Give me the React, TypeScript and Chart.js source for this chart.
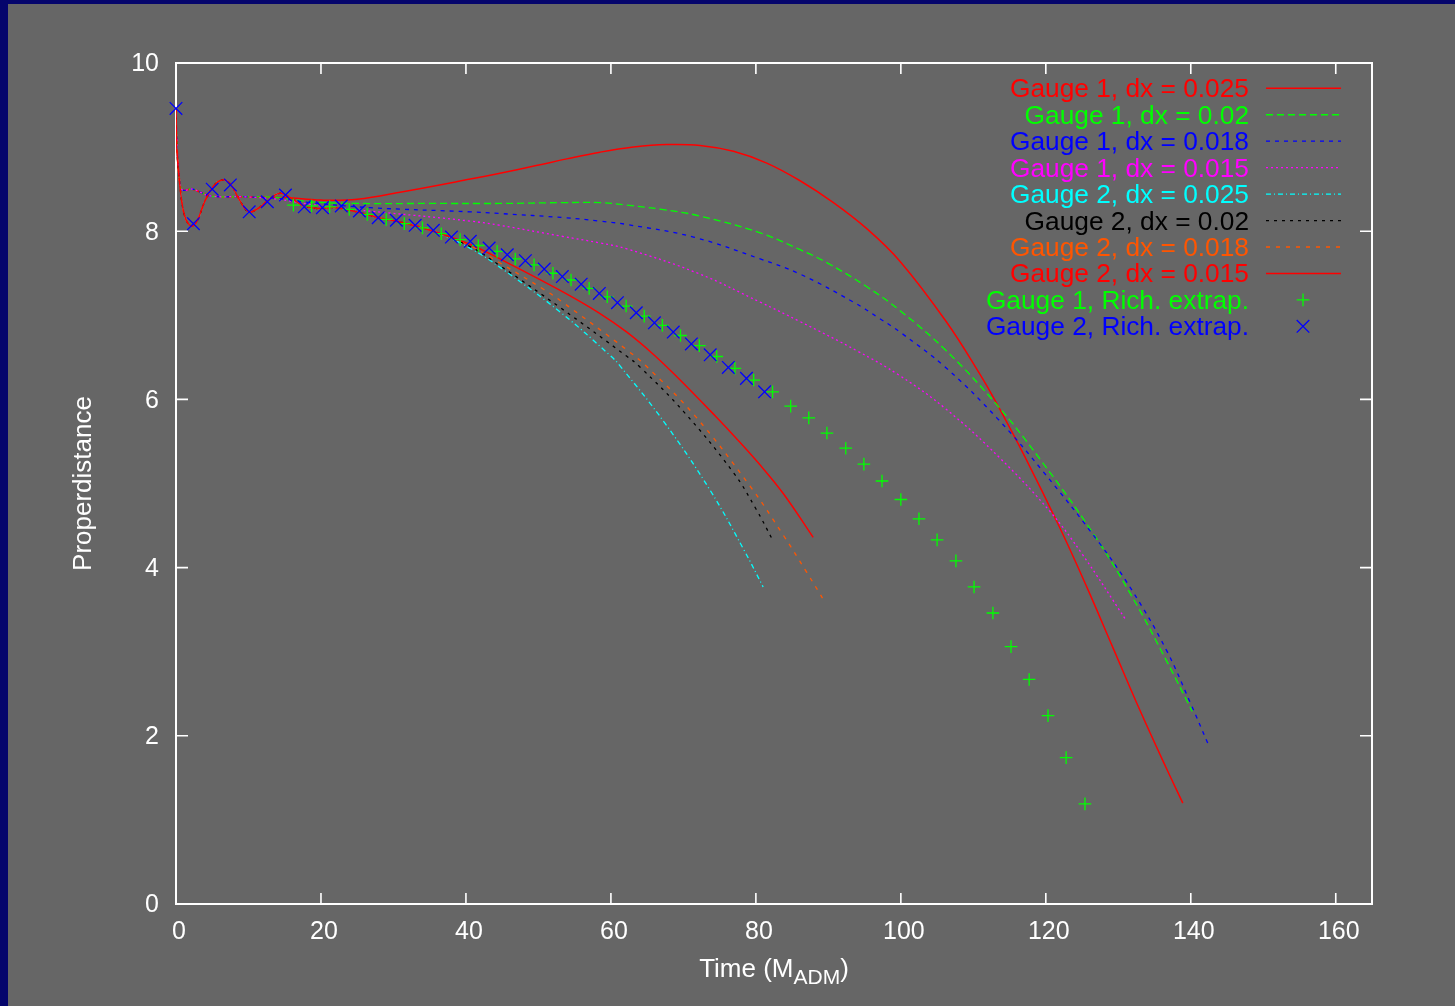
import React, { useEffect, useRef } from "react";
import { Chart, registerables } from "chart.js";

Chart.register(...registerables);

const W = 1447;
const H = 1002;
const FONT = '"Liberation Sans", Arial, sans-serif';

const xTicks = [0, 20, 40, 60, 80, 100, 120, 140, 160];
const yTicks = [0, 2, 4, 6, 8, 10];

// Gauge 1: common early part
const g1EarlyT = [0, 0.15, 0.5, 0.9, 2.3, 4.7, 9.3];
const g1EarlyY = [9.45, 9.0, 8.6, 8.49, 8.5, 8.42, 8.41];

const g1dx025T = [15, 20, 25, 31.3, 40.6, 44.7, 49.7, 53.9, 58.5, 63.1, 67.7, 72.3, 76.9, 81.5, 86.1, 90.7, 95.3, 99.9, 106.3, 110.9, 113.2, 117.1, 121.9, 125.6, 129.3, 133, 136.6, 138.9];
const g1dx025Y = [8.4, 8.37, 8.38, 8.47, 8.62, 8.69, 8.78, 8.86, 8.94, 9.0, 9.03, 9.02, 8.95, 8.81, 8.6, 8.34, 8.03, 7.64, 6.92, 6.3, 5.955, 5.32, 4.48, 3.78, 3.04, 2.3, 1.62, 1.2];

const g1dx02T = [13.9, 18.5, 25, 35, 44.7, 53.4, 58.5, 62.2, 67, 72.3, 80.6, 86.1, 89.7, 95.3, 99.9, 106.3, 113.2, 119.2, 126.5, 132, 136.6, 140.2];
const g1dx02Y = [8.4, 8.35, 8.33, 8.33, 8.33, 8.34, 8.34, 8.31, 8.26, 8.18, 7.98, 7.78, 7.63, 7.34, 7.055, 6.575, 5.94, 5.29, 4.41, 3.64, 2.9, 2.29];

const g1dx018T = [13.9, 18.5, 26.8, 40.6, 44.7, 53.7, 58.5, 62.2, 71.4, 80.6, 86.1, 93.4, 97.1, 99.9, 106.3, 113.3, 119.6, 127.4, 132, 136.6, 139.9, 142.4];
const g1dx018Y = [8.39, 8.34, 8.28, 8.23, 8.21, 8.16, 8.12, 8.08, 7.93, 7.67, 7.49, 7.16, 6.96, 6.8, 6.37, 5.775, 5.145, 4.29, 3.715, 3.025, 2.4, 1.9];

const g1dx015T = [13.9, 18.5, 23, 29.1, 40.6, 44.7, 53.2, 58.5, 62.2, 72, 80.6, 86.1, 93.9, 99.9, 106.3, 113.7, 120.6, 125.1, 131.1];
const g1dx015Y = [8.38, 8.32, 8.27, 8.22, 8.12, 8.07, 7.94, 7.86, 7.79, 7.5, 7.156, 6.925, 6.58, 6.28, 5.88, 5.3, 4.665, 4.15, 3.37];

// Gauge 2: common early (oscillating) part
const g2EarlyT = [0, 0.1, 0.55, 1.2, 2.1, 2.9, 4.0, 5.2, 6.4, 7.5, 8.7, 10.0, 11.3, 12.6, 14.3, 15.8, 17.4, 19.5, 22, 25.4, 28, 31.4, 35.5];
const g2EarlyY = [9.45, 9.0, 8.53, 8.18, 8.06, 8.12, 8.36, 8.54, 8.61, 8.56, 8.38, 8.23, 8.27, 8.36, 8.45, 8.4, 8.31, 8.27, 8.28, 8.22, 8.16, 8.1, 8.0];

const g2dx025T = [40.6, 44.7, 53, 59.9, 61.2, 67.5, 73.7, 78.3, 81];
const g2dx025Y = [7.796, 7.57, 7.039, 6.522, 6.405, 5.712, 4.918, 4.219, 3.77];

const g2dx02T = [40.6, 44.7, 53, 62.2, 64, 70, 76.9, 80, 82.3];
const g2dx02Y = [7.816, 7.59, 7.092, 6.512, 6.386, 5.858, 5.13, 4.7, 4.33];

const g2dx018T = [40.6, 44.7, 50.7, 53, 62.2, 64.9, 71.6, 79.2, 83.8, 87, 89.6];
const g2dx018Y = [7.827, 7.622, 7.31, 7.177, 6.588, 6.394, 5.804, 4.968, 4.384, 3.946, 3.58];

const g2dx015T = [40.6, 44.7, 53, 58.5, 62.2, 65.8, 69.1, 74.6, 76.9, 80.5, 83.8, 87.9];
const g2dx015Y = [7.842, 7.67, 7.296, 7.021, 6.799, 6.54, 6.269, 5.785, 5.574, 5.228, 4.878, 4.36];

// Richardson extrapolations
const rich1T = [16.2, 18.7, 21.2, 23.9, 26.4, 29.0, 31.5, 34.0, 36.6, 39.2, 41.7, 44.3, 46.8, 49.4, 52.0, 54.5, 57.0, 59.5, 62.1, 64.6, 67.1, 69.6, 72.2, 74.6, 77.1, 79.7, 82.3, 84.8, 87.3, 89.8, 92.4, 94.9, 97.4, 100.0, 102.5, 105.0, 107.6, 110.1, 112.7, 115.2, 117.7, 120.3, 122.8, 125.4];
const rich1Y = [8.31, 8.3, 8.29, 8.26, 8.2, 8.14, 8.09, 8.04, 7.97, 7.9, 7.83, 7.76, 7.67, 7.6, 7.5, 7.42, 7.32, 7.22, 7.11, 6.99, 6.88, 6.76, 6.64, 6.51, 6.37, 6.23, 6.09, 5.92, 5.78, 5.6, 5.42, 5.23, 5.03, 4.81, 4.58, 4.33, 4.08, 3.77, 3.46, 3.06, 2.67, 2.24, 1.74, 1.19];

const rich2T = [0, 2.4, 5.0, 7.5, 10.1, 12.6, 15.1, 17.7, 20.2, 22.8, 25.3, 27.9, 30.4, 33.0, 35.5, 38.0, 40.6, 43.2, 45.7, 48.2, 50.8, 53.3, 55.9, 58.4, 60.9, 63.5, 66.0, 68.6, 71.1, 73.7, 76.2, 78.7, 81.2];
const rich2Y = [9.46, 8.09, 8.5, 8.55, 8.23, 8.35, 8.43, 8.29, 8.28, 8.3, 8.24, 8.16, 8.13, 8.07, 8.01, 7.93, 7.88, 7.8, 7.72, 7.65, 7.55, 7.46, 7.37, 7.26, 7.15, 7.03, 6.91, 6.8, 6.66, 6.53, 6.38, 6.25, 6.09];

const labels = [
  "Gauge 1, dx = 0.025",
  "Gauge 1, dx = 0.02",
  "Gauge 1, dx = 0.018",
  "Gauge 1, dx = 0.015",
  "Gauge 2, dx = 0.025",
  "Gauge 2, dx = 0.02",
  "Gauge 2, dx = 0.018",
  "Gauge 2, dx = 0.015",
  "Gauge 1, Rich. extrap.",
  "Gauge 2, Rich. extrap.",
];
const colors = ["#ff0000", "#00ff00", "#0000ff", "#ff00ff", "#00ffff", "#000000", "#ff5500", "#ff0000", "#00ff00", "#0000ff"];
const dashes: number[][] = [[], [7, 4], [4, 5], [2, 3], [5, 3, 1, 3], [3, 5], [4, 6], [], [], []];
const widths = [1.5, 1.3, 1.3, 1.3, 1.3, 1.3, 1.3, 1.5, 1.3, 1.3];

function pts(t: number[], y: number[]) {
  return t.map((x, i) => ({ x, y: y[i] }));
}

const deco = {
  id: "deco",
  beforeDatasetsDraw(chart: any) {
    const { ctx, chartArea: a, scales } = chart;
    ctx.save();
    ctx.strokeStyle = "#ffffff";
    ctx.lineWidth = 2;
    ctx.setLineDash([]);
    ctx.strokeRect(a.left, a.top, a.right - a.left, a.bottom - a.top);
    ctx.lineWidth = 1.6;
    ctx.beginPath();
    for (const v of xTicks) {
      const p = scales.x.getPixelForValue(v);
      ctx.moveTo(p, a.bottom);
      ctx.lineTo(p, a.bottom - 11);
      ctx.moveTo(p, a.top);
      ctx.lineTo(p, a.top + 11);
    }
    for (const v of yTicks) {
      const p = scales.y.getPixelForValue(v);
      ctx.moveTo(a.left, p);
      ctx.lineTo(a.left + 12, p);
      ctx.moveTo(a.right, p);
      ctx.lineTo(a.right - 12, p);
    }
    ctx.stroke();
    ctx.restore();
  },
  afterDraw(chart: any) {
    const { ctx, chartArea: a } = chart;
    ctx.save();
    // legend
    const textRight = 1241;
    const lx1 = 1258;
    const lx2 = 1333;
    const mx = 1295;
    ctx.font = `26.3px ${FONT}`;
    ctx.textAlign = "right";
    ctx.textBaseline = "alphabetic";
    for (let i = 0; i < labels.length; i++) {
      const yc = 84.3 + i * 26.45;
      ctx.fillStyle = colors[i];
      ctx.fillText(labels[i], textRight, yc + 9);
      ctx.strokeStyle = colors[i];
      ctx.lineWidth = widths[i];
      if (i < 8) {
        ctx.setLineDash(dashes[i]);
        ctx.beginPath();
        ctx.moveTo(lx1, yc);
        ctx.lineTo(lx2, yc);
        ctx.stroke();
        ctx.setLineDash([]);
      } else if (i === 8) {
        ctx.beginPath();
        ctx.moveTo(mx - 6.3, yc);
        ctx.lineTo(mx + 6.3, yc);
        ctx.moveTo(mx, yc - 6.3);
        ctx.lineTo(mx, yc + 6.3);
        ctx.stroke();
      } else {
        const d = 6.3;
        ctx.beginPath();
        ctx.moveTo(mx - d, yc - d);
        ctx.lineTo(mx + d, yc + d);
        ctx.moveTo(mx + d, yc - d);
        ctx.lineTo(mx - d, yc + d);
        ctx.stroke();
      }
    }
    // y title
    ctx.fillStyle = "#ffffff";
    ctx.textAlign = "center";
    ctx.font = `26px ${FONT}`;
    ctx.save();
    ctx.translate(83, (a.top + a.bottom) / 2);
    ctx.rotate(-Math.PI / 2);
    ctx.fillText("Properdistance", 0, 0);
    ctx.restore();
    // x title with subscript
    const main = "Time (M";
    const sub = "ADM";
    const close = ")";
    ctx.textAlign = "left";
    ctx.font = `26px ${FONT}`;
    const w1 = ctx.measureText(main).width;
    const w3 = ctx.measureText(close).width;
    ctx.font = `21px ${FONT}`;
    const w2 = ctx.measureText(sub).width;
    const total = w1 + w2 + w3;
    let x = (a.left + a.right) / 2 - total / 2;
    const base = 973;
    ctx.font = `26px ${FONT}`;
    ctx.fillText(main, x, base);
    x += w1;
    ctx.font = `21px ${FONT}`;
    ctx.fillText(sub, x, base + 7);
    x += w2;
    ctx.font = `26px ${FONT}`;
    ctx.fillText(close, x, base);
    ctx.restore();
  },
};

export default function App() {
  const ref = useRef<HTMLCanvasElement>(null);
  useEffect(() => {
    const canvas = ref.current;
    if (!canvas) return;
    const series = [
      pts(g1EarlyT.concat(g1dx025T), g1EarlyY.concat(g1dx025Y)),
      pts(g1EarlyT.concat(g1dx02T), g1EarlyY.concat(g1dx02Y)),
      pts(g1EarlyT.concat(g1dx018T), g1EarlyY.concat(g1dx018Y)),
      pts(g1EarlyT.concat(g1dx015T), g1EarlyY.concat(g1dx015Y)),
      pts(g2EarlyT.concat(g2dx025T), g2EarlyY.concat(g2dx025Y)),
      pts(g2EarlyT.concat(g2dx02T), g2EarlyY.concat(g2dx02Y)),
      pts(g2EarlyT.concat(g2dx018T), g2EarlyY.concat(g2dx018Y)),
      pts(g2EarlyT.concat(g2dx015T), g2EarlyY.concat(g2dx015Y)),
    ];
    const datasets: any[] = series.map((data, i) => ({
      label: labels[i],
      data,
      showLine: true,
      borderColor: colors[i],
      backgroundColor: colors[i],
      borderWidth: widths[i],
      borderDash: dashes[i],
      pointRadius: 0,
      pointHoverRadius: 0,
      tension: 0.4,
      fill: false,
      order: 20 - i,
    }));
    datasets.push({
      label: labels[8],
      data: pts(rich1T, rich1Y),
      showLine: false,
      pointStyle: "cross",
      pointRadius: 6.3,
      pointBorderColor: colors[8],
      pointBackgroundColor: colors[8],
      pointBorderWidth: 1.3,
      borderColor: colors[8],
      clip: false,
      order: 12,
    });
    datasets.push({
      label: labels[9],
      data: pts(rich2T, rich2Y),
      showLine: false,
      pointStyle: "crossRot",
      pointRadius: 8.9,
      pointBorderColor: colors[9],
      pointBackgroundColor: colors[9],
      pointBorderWidth: 1.3,
      borderColor: colors[9],
      clip: false,
      order: 11,
    });

    const tickFont = { family: FONT, size: 25 };
    const chart = new Chart(canvas, {
      type: "scatter",
      data: { datasets },
      options: {
        animation: false,
        responsive: false,
        devicePixelRatio: 1,
        events: [],
        layout: { padding: { top: 59, right: 83, left: 0, bottom: 0 } },
        plugins: { legend: { display: false }, tooltip: { enabled: false }, title: { display: false } },
        scales: {
          x: {
            type: "linear",
            min: 0,
            max: 165,
            grid: { display: false, drawTicks: false },
            border: { display: false },
            ticks: { color: "#ffffff", font: tickFont, padding: 13, labelOffset: 3, autoSkip: false, maxRotation: 0 },
            afterBuildTicks: (s: any) => {
              s.ticks = xTicks.map((v) => ({ value: v }));
            },
            afterFit: (s: any) => {
              s.height = 102;
            },
          },
          y: {
            type: "linear",
            min: 0,
            max: 10,
            grid: { display: false, drawTicks: false },
            border: { display: false },
            ticks: { color: "#ffffff", font: tickFont, padding: 17, labelOffset: 1.5, autoSkip: false },
            afterBuildTicks: (s: any) => {
              s.ticks = yTicks.map((v) => ({ value: v }));
            },
            afterFit: (s: any) => {
              s.width = 168;
            },
          },
        },
      } as any,
      plugins: [deco],
    });
    return () => chart.destroy();
  }, []);

  return (
    <div style={{ position: "fixed", left: 0, top: 0, right: 0, bottom: 0, background: "#05056c", overflow: "hidden" }}>
      <canvas
        ref={ref}
        width={W}
        height={H}
        style={{ position: "absolute", left: 8, top: 4, width: W, height: H, background: "#666666", display: "block" }}
      />
    </div>
  );
}
